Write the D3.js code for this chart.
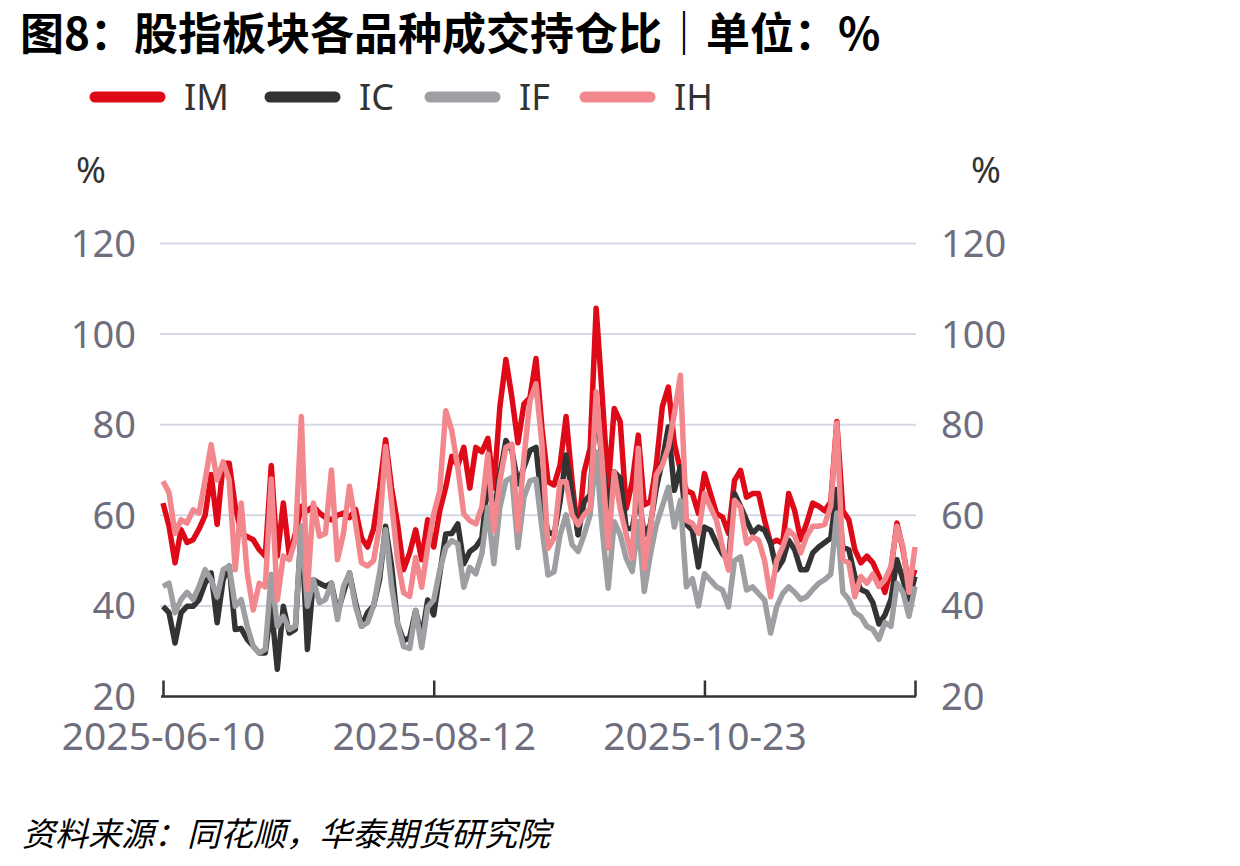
<!DOCTYPE html>
<html><head><meta charset="utf-8">
<script src="https://cdn.jsdelivr.net/npm/d3@7"></script>
<style>body{margin:0;background:#fff;} svg{display:block;}</style>
</head><body>
<svg id="c" width="1240" height="866"></svg>
<script>
const dates = [
"2025-06-10","2025-06-11","2025-06-12","2025-06-13","2025-06-16","2025-06-17","2025-06-18","2025-06-19","2025-06-20","2025-06-23","2025-06-24","2025-06-25","2025-06-26","2025-06-27","2025-06-30",
"2025-07-01","2025-07-02","2025-07-03","2025-07-04","2025-07-07","2025-07-08","2025-07-09","2025-07-10","2025-07-11","2025-07-14","2025-07-15","2025-07-16","2025-07-17","2025-07-18","2025-07-21","2025-07-22","2025-07-23","2025-07-24","2025-07-25","2025-07-28","2025-07-29","2025-07-30","2025-07-31",
"2025-08-01","2025-08-04","2025-08-05","2025-08-06","2025-08-07","2025-08-08","2025-08-11","2025-08-12","2025-08-13","2025-08-14","2025-08-15","2025-08-18","2025-08-19","2025-08-20","2025-08-21","2025-08-22","2025-08-25","2025-08-26","2025-08-27","2025-08-28","2025-08-29",
"2025-09-01","2025-09-02","2025-09-03","2025-09-04","2025-09-05","2025-09-08","2025-09-09","2025-09-10","2025-09-11","2025-09-12","2025-09-15","2025-09-16","2025-09-17","2025-09-18","2025-09-19","2025-09-22","2025-09-23","2025-09-24","2025-09-25","2025-09-26","2025-09-29",
"2025-10-09","2025-10-10","2025-10-13","2025-10-14","2025-10-15","2025-10-16","2025-10-17","2025-10-20","2025-10-21","2025-10-22","2025-10-23","2025-10-24","2025-10-27","2025-10-28","2025-10-29","2025-10-30","2025-10-31",
"2025-11-03","2025-11-04","2025-11-05","2025-11-06","2025-11-07","2025-11-10","2025-11-11","2025-11-12","2025-11-13","2025-11-14","2025-11-17","2025-11-18","2025-11-19","2025-11-20","2025-11-21","2025-11-24","2025-11-25","2025-11-26","2025-11-27","2025-11-28",
"2025-12-01","2025-12-02","2025-12-03","2025-12-04","2025-12-05","2025-12-08","2025-12-09","2025-12-10","2025-12-11"];

const seriesNames = ["IM","IC","IF","IH"];

const imValues = [62.7,57.6,49.5,56.8,54,54.6,57,60,69,58,71.5,71.5,62,56,55.3,54.6,52.4,51,71,51,
62.7,51,56,62,61,62,60.5,59.5,59,60,60.5,59.5,61.3,55,53,57,66,76.7,66,58,
48,51.7,56.8,50.2,59,53,61,66.2,73,71,75,66,75,74,77,66,84,94.4,86,76,
84.6,86,94.6,79.2,67.4,66.7,71.1,81.8,67.4,55.7,69.6,74.8,105.7,86.5,66,83.6,80.7,61.5,67.4,77.7,
62.3,63,71.1,84,88.3,75.8,70,65.5,64.8,60.4,69.2,64.8,60.4,59.6,56,67.7,69.9,64,64.8,64.8,
58.9,53.8,54.5,53.8,64.8,61,54.6,58.3,62.7,62,61,63,80.7,61,59,52.4,49.5,51,49.5,46.5,
43,48,58.3,52.4,44.3,48];

const icValues = [39.9,38.5,31.8,38.5,39.9,39.9,41.4,45,47.3,36.3,45.8,48.8,34.8,35,32.6,31.1,29.6,29.6,40,26,
39.9,34,34.8,57.6,30.4,45.8,45,44.3,45,38.5,42.9,47.3,40.7,35.5,38.5,40,45.8,57.6,48.8,36,
32.3,33,39,33,41.3,38,47,55.9,56,58.1,49.3,52,53,55,67.6,60.3,69.1,76.5,74.3,66.9,
70.6,74.3,75,62,56.4,55.7,63,73.3,64.5,55.7,63,64.5,85,71.8,61.5,69.6,68.2,57.1,57.1,64.5,
55.7,57.9,66,72,79.5,65.5,70.7,58,56.7,48.6,57.4,56.7,53.8,51.5,50,64.8,62,58.9,56,57.4,
56.7,53.8,47.9,50,54.5,52.4,48,48,51.7,53,54,55,65.7,53,52.4,46.5,43.6,43,40.7,36,
38,41.4,50.2,45.8,41.4,46.5];

const ifValues = [44.3,45,38.5,41.4,43,41.4,44.3,48,45.8,42,48,48.8,39.9,41.4,35.5,31.1,29.6,30.4,47,35.5,
37.7,34.8,35.5,57.6,39.9,45.8,40.7,41.4,45,37,44.3,47.3,39.9,35.5,36.3,40,47.3,56.8,44.3,36,
31,30.6,39,30.8,39.8,41.3,47.8,52.9,54.4,53.7,44.1,48.5,47.1,51.5,61.8,49.3,61.8,67.6,68.4,52.9,
64,67.6,68,57.1,46.8,47.5,55.7,60.1,53.5,52,55.7,60.1,74,57.1,43.9,58.6,55.7,50.5,47.6,58.6,
43.2,51.2,57.9,62,66.2,57.4,63.3,44.2,46,40,47.1,45.7,44.2,43.5,39.8,50,50.8,43.5,44.2,42.7,
41.3,34,39.8,42.7,44.2,43,41.4,42,43.6,45,45.8,47,60.5,43,41.4,38.5,37.7,35.5,34.8,32.6,
36.3,35.5,45,43,37.7,44.3];

const ihValues = [67.5,65,56,59,58.3,61.2,60.5,67.8,75.6,67.8,71.8,67.8,48,62.7,47.3,39.1,45,44.2,68,41.3,
51,50.2,54.6,81.8,43.6,62.7,55.4,56,70,50.2,56,66.4,58.3,49.5,48.8,50,57.6,75.2,62.7,50,
42.9,42.1,50.7,44.1,52.9,60.3,65.4,83.1,78.7,70.6,60.3,58.8,58.1,61.8,73.5,56.6,67.6,75,75.7,56.6,
72.8,85.3,89,75.5,52.7,54.9,67.4,67.4,60.1,57.9,60.1,61.5,87.3,71.8,52.7,69.6,61.5,55.7,50.5,74.8,
48.3,57.1,68.9,71.1,75,82.4,90.9,58.9,58.2,56,64.8,61.8,58.9,53,47.9,63.3,61.8,53.8,55.2,54.5,
50,42,50,53,56.7,55.4,51.7,55.4,57.6,57.6,58,62,80.4,50.2,49.5,42,46.5,45,47,44.3,
45.8,48.7,57.6,53,43,53];

const seriesColors = ["#DE0A18","#333333","#9D9FA2","#F2878E"];
const yTicks = [20,40,60,80,100,120];
const xTickLabels = ["2025-06-10","2025-08-12","2025-10-23"];

const titleText = "图8：股指板块各品种成交持仓比｜单位：%";
const sourceText = "资料来源：同花顺，华泰期货研究院";

const svg = d3.select("#c");
const valuesBySeries = [imValues, icValues, ifValues, ihValues];

const x = d3.scalePoint().domain(dates).range([163, 915]);
const y = d3.scaleLinear().domain([20, 120]).range([696.5, 243.5]);

const axisFont = "'Noto Sans', 'Open Sans', sans-serif";
const axisColor = "#6E6E7E";

// title
svg.append("text").attr("x", 20).attr("y", 50)
  .attr("font-family", "'Noto Sans CJK SC', sans-serif").attr("font-weight", 700)
  .attr("font-size", 44).attr("fill", "#000").text(titleText);

// legend
const legendX = [90, 265, 425, 580];
seriesNames.forEach((n, i) => {
  const g = svg.append("g");
  g.append("line").attr("x1", legendX[i] + 5).attr("x2", legendX[i] + 70)
    .attr("y1", 97).attr("y2", 97).attr("stroke", seriesColors[i])
    .attr("stroke-width", 11).attr("stroke-linecap", "round");
  g.append("text").attr("x", legendX[i] + 94).attr("y", 110)
    .attr("font-family", axisFont).attr("font-size", 36).attr("fill", "#333").text(n);
});

// grid lines
svg.append("g").selectAll("line").data(yTicks.filter(d => d > 20)).join("line")
  .attr("x1", 160).attr("x2", 916).attr("y1", d => y(d)).attr("y2", d => y(d))
  .attr("stroke", "#D6D9E4").attr("stroke-width", 2);

// y axes
const yAxisL = d3.axisLeft(y).tickValues(yTicks).tickSize(0).tickPadding(0);
const gl = svg.append("g").attr("transform", "translate(136,0)").call(yAxisL);
gl.select(".domain").remove();
gl.selectAll("text").attr("font-family", axisFont).attr("font-size", 38).attr("fill", axisColor).attr("dy", "0.34em");

const yAxisR = d3.axisRight(y).tickValues(yTicks).tickSize(0).tickPadding(0);
const gr = svg.append("g").attr("transform", "translate(941,0)").call(yAxisR);
gr.select(".domain").remove();
gr.selectAll("text").attr("font-family", axisFont).attr("font-size", 38).attr("fill", axisColor).attr("dy", "0.34em");

// unit labels
svg.append("text").attr("x", 91).attr("y", 183).attr("text-anchor", "middle")
  .attr("font-family", axisFont).attr("font-size", 36).attr("fill", "#333").text("%");
svg.append("text").attr("x", 986).attr("y", 183).attr("text-anchor", "middle")
  .attr("font-family", axisFont).attr("font-size", 36).attr("fill", "#333").text("%");

// lines
const line = d3.line().x((d, i) => x(dates[i])).y(d => y(d));
valuesBySeries.forEach((vals, i) => {
  svg.append("path").datum(vals).attr("d", line)
    .attr("fill", "none").attr("stroke", seriesColors[i]).attr("stroke-width", 5.5)
    .attr("stroke-linejoin", "round");
});

// x axis
const tickDates = [dates[0], ...xTickLabels.slice(1), dates[dates.length - 1]];
const xAxis = d3.axisBottom(x).tickValues(tickDates).tickSizeInner(-16).tickSizeOuter(0)
  .tickFormat(d => xTickLabels.includes(d) ? d : "");
const gx = svg.append("g").attr("transform", "translate(0,696.5)").call(xAxis);
gx.select(".domain").attr("stroke", "#333").attr("stroke-width", 2.5).attr("d", "M161,0H916");
gx.selectAll(".tick line").attr("stroke", "#333").attr("stroke-width", 2.5);
gx.selectAll("text").attr("font-family", axisFont).attr("font-size", 39).attr("fill", axisColor).attr("y", 26).attr("dy", "0.71em");

// source
svg.append("text").attr("x", 22).attr("y", 846)
  .attr("font-family", "'Noto Sans CJK SC', sans-serif").attr("font-style", "italic")
  .attr("font-size", 33).attr("fill", "#000").text(sourceText);
</script>
</body></html>
